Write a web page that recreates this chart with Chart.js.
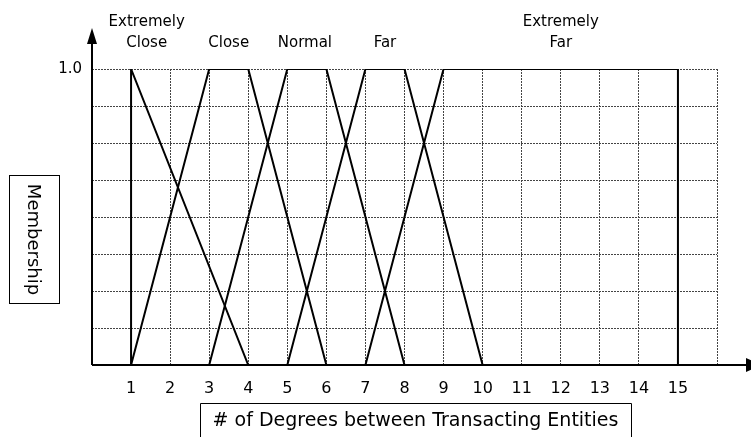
<!DOCTYPE html>
<html>
<head>
<meta charset="utf-8">
<script src="https://cdn.jsdelivr.net/npm/chart.js@4.4.1/dist/chart.umd.min.js"></script>
<style>
  html, body { margin: 0; padding: 0; background: #fff; }
  canvas { display: block; }
</style>
</head>
<body>
<canvas id="chart" width="751" height="437"></canvas>
<script>
// ---- DADOS ----
var xTickLabels = ['1','2','3','4','5','6','7','8','9','10','11','12','13','14','15'];
var yTickLabel  = '1.0';

// funções de pertinência (x, y)
var extCloseX = [1, 1, 4];        var extCloseY = [0, 1, 0];
var closeX    = [1, 3, 4, 6];     var closeY    = [0, 1, 1, 0];
var normalX   = [3, 5, 6, 8];     var normalY   = [0, 1, 1, 0];
var farX      = [5, 7, 8, 10];    var farY      = [0, 1, 1, 0];
var extFarX   = [7, 9, 15, 15];   var extFarY   = [0, 1, 1, 0];

// rótulos das categorias (acima do gráfico) e onde ficam no eixo x
var catLabels  = [['Extremely', 'Close'], ['Close'], ['Normal'], ['Far'], ['Extremely', 'Far']];
var catCenters = [1.4, 3.5, 5.45, 7.5, 12];

var yTitle = 'Membership';
var xTitle = '# of Degrees between Transacting Entities';

var FONT = '"DejaVu Sans", sans-serif';

function pts(xs, ys) {
  return xs.map(function(x, i) { return { x: x, y: ys[i] }; });
}
function serie(label, xs, ys) {
  return { label: label, data: pts(xs, ys), showLine: true, borderColor: '#000',
           borderWidth: 2, pointRadius: 0, tension: 0, fill: false };
}

// ---- PLUGIN: eixos com setas, rótulos e caixas de título ----
var decor = {
  id: 'decor',
  afterDraw: function(chart) {
    var ctx = chart.ctx, a = chart.chartArea, xs = chart.scales.x;
    ctx.save();
    ctx.strokeStyle = '#000'; ctx.fillStyle = '#000'; ctx.lineWidth = 2;

    // eixo y + seta
    ctx.beginPath(); ctx.moveTo(a.left, a.bottom); ctx.lineTo(a.left, a.top - 26); ctx.stroke();
    ctx.beginPath(); ctx.moveTo(a.left, a.top - 41); ctx.lineTo(a.left - 5, a.top - 25);
    ctx.lineTo(a.left + 5, a.top - 25); ctx.closePath(); ctx.fill();

    // eixo x + seta
    ctx.beginPath(); ctx.moveTo(a.left, a.bottom); ctx.lineTo(a.right + 30, a.bottom); ctx.stroke();
    ctx.beginPath(); ctx.moveTo(a.right + 29, a.bottom - 7); ctx.lineTo(a.right + 29, a.bottom + 7);
    ctx.lineTo(a.right + 45, a.bottom); ctx.closePath(); ctx.fill();

    // rótulos das categorias
    ctx.font = '15px ' + FONT; ctx.textAlign = 'center'; ctx.textBaseline = 'middle';
    catLabels.forEach(function(lines, i) {
      var px = xs.getPixelForValue(catCenters[i]);
      var n = lines.length;
      lines.forEach(function(t, j) {
        ctx.fillText(t, px, a.top - 26 - (n - 1 - j) * 21);
      });
    });

    // título y (caixa + texto girado)
    ctx.lineWidth = 1;
    ctx.strokeRect(9.5, 175.5, 50, 128);
    ctx.save();
    ctx.translate(33, 239.5);
    ctx.rotate(Math.PI / 2);
    ctx.font = '18px ' + FONT;
    ctx.fillText(yTitle, 0, 0);
    ctx.restore();

    // título x (caixa aberta embaixo)
    ctx.beginPath();
    ctx.moveTo(200.5, 440); ctx.lineTo(200.5, 403.5); ctx.lineTo(631.5, 403.5); ctx.lineTo(631.5, 440);
    ctx.stroke();
    ctx.font = '19px ' + FONT;
    ctx.fillText(xTitle, 415.5, 421);
    ctx.restore();
  }
};

// ---- CHART ----
var gridColor = function(c) { return c.tick && c.tick.value === 0 ? 'rgba(0,0,0,0)' : '#444'; };
new Chart(document.getElementById('chart'), {
  type: 'scatter',
  data: {
    datasets: [
      serie('Extremely Close', extCloseX, extCloseY),
      serie('Close', closeX, closeY),
      serie('Normal', normalX, normalY),
      serie('Far', farX, farY),
      serie('Extremely Far', extFarX, extFarY)
    ]
  },
  options: {
    responsive: false,
    animation: false,
    layout: { padding: { top: 69, right: 34, left: 0, bottom: 0 } },
    plugins: { legend: { display: false }, tooltip: { enabled: false } },
    scales: {
      x: {
        type: 'linear', min: 0, max: 16,
        afterFit: function(s) { s.height = 72; },
        border: { display: false, dash: [2, 1] },
        grid: { drawTicks: false, color: gridColor, lineWidth: 1 },
        ticks: {
          stepSize: 1, color: '#000', padding: 14, maxRotation: 0, autoSkip: false,
          font: { family: FONT, size: 16 },
          callback: function(v) { return v >= 1 && v <= 15 ? xTickLabels[v - 1] : ''; }
        }
      },
      y: {
        type: 'linear', min: 0, max: 1,
        afterFit: function(s) { s.width = 92; },
        border: { display: false, dash: [2, 1] },
        grid: { drawTicks: false, color: gridColor, lineWidth: 1 },
        ticks: {
          stepSize: 0.125, color: '#000', padding: 10, autoSkip: false,
          font: { family: FONT, size: 15 },
          callback: function(v) { return Math.abs(v - 1) < 1e-9 ? yTickLabel : ''; }
        }
      }
    }
  },
  plugins: [decor]
});
</script>
</body>
</html>
